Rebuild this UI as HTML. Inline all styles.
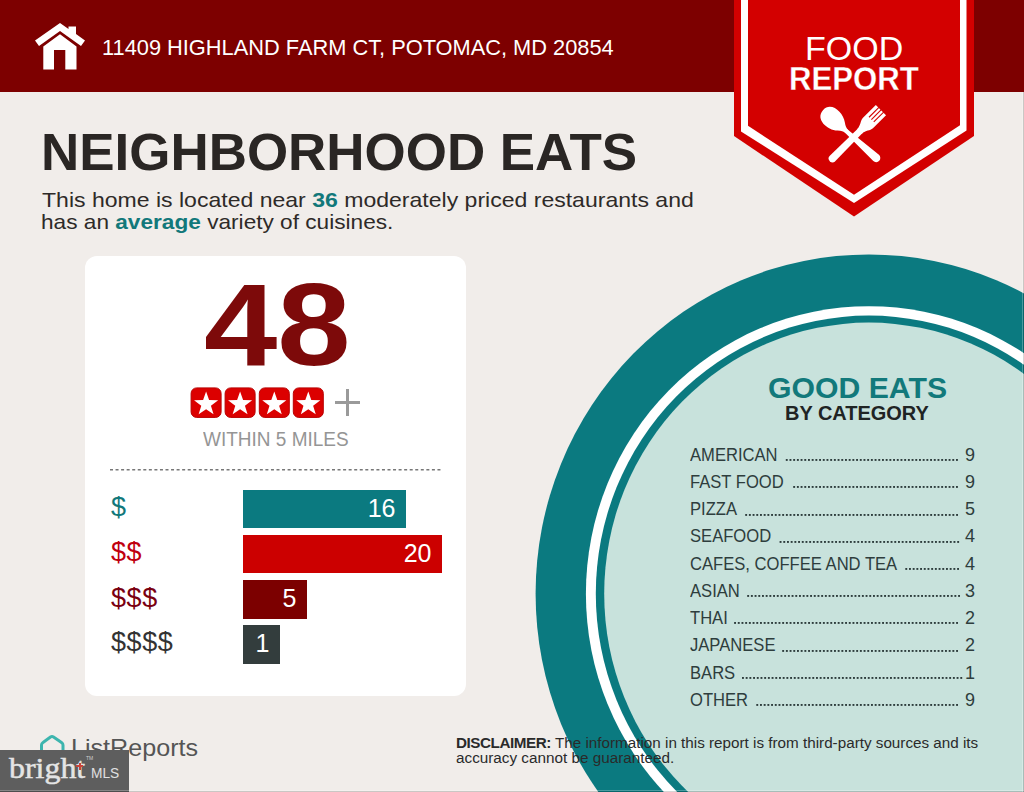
<!DOCTYPE html>
<html><head><meta charset="utf-8">
<style>
*{margin:0;padding:0;box-sizing:border-box}
html,body{width:1024px;height:792px;overflow:hidden;background:#f1edea}
body{position:relative;font-family:"Liberation Sans",sans-serif}
.a{position:absolute;white-space:nowrap;line-height:1;transform-origin:0 0}
#hdr{position:absolute;left:0;top:0;width:1024px;height:92px;background:#7d0000}
#card{position:absolute;left:85px;top:256px;width:381px;height:439.5px;background:#fff;border-radius:12px}
.bar{position:absolute;left:243px;height:38.5px;color:#fff;font-size:25px;text-align:right;line-height:36.5px;padding-right:10.5px}
.cl{font-size:18px;color:#2e3d3d;transform:scaleX(0.922)}
.cn{font-size:18px;color:#2e3d3d}
.dots{position:absolute;height:1.8px;background-image:linear-gradient(to right,#2e3d3d 0,#2e3d3d 1.8px,transparent 1.8px);background-size:3.7px 1.8px;background-position:right 0 top 0;background-repeat:repeat-x}
</style></head><body>
<div id="hdr"></div>

<svg class="a" style="left:0;top:0" width="120" height="92" viewBox="0 0 120 92">
  <polygon fill="#fff" points="60,23 35,40.5 39,46 60,31 81,46 85,40.5 76,34 76,26.5 68.5,26.5 68.5,29"/>
  <polygon fill="#fff" points="43.3,46.5 60,34.3 76.5,46.5 76.5,69.5 65.3,69.5 65.3,50 54,50 54,69.5 43.3,69.5"/>
</svg>

<div id="addr" class="a" style="left:102px;top:37.2px;font-size:22px;color:#fff;transform:scaleX(0.991)">11409 HIGHLAND FARM CT, POTOMAC, MD 20854</div>

<svg class="a" style="left:0;top:0" width="1024" height="230" viewBox="0 0 1024 230">
  <polygon fill="#d30000" points="734,0 974,0 974,136 854,216.5 734,136"/>
  <polygon fill="#fff" points="741,0 966.5,0 966.5,130.6 854,203 741,131.5"/>
  <polygon fill="#d30000" points="748,0 960,0 960,125.3 854,194.8 748,125.8"/>
  <g transform="translate(832.5,158.5) rotate(-45)" fill="#fff">
    <path d="M0,-3.8 L40,-3.2 L40,3.2 L0,3.8 A3.8,3.8 0 0 1 0,-3.8 Z"/>
    <path d="M38,-3.2 C44,-3.4 46,-7 50,-7.2 L68.5,-7.2 L68.5,7.2 L50,7.2 C46,7 44,3.4 38,3.2 Z"/>
    <rect x="55" y="-3.9" width="14" height="1.1" fill="#d30000"/>
    <rect x="55" y="-0.55" width="14" height="1.1" fill="#d30000"/>
    <rect x="55" y="2.8" width="14" height="1.1" fill="#d30000"/>
  </g>
  <g transform="translate(834.5,120.5) rotate(42)" fill="#fff">
    <path d="M-15.5,0 C-15.5,-12 1,-12 9,-5.5 C12,-3 14,-2.2 17,-2 L17,2 C14,2.2 12,3 9,5.5 C1,12 -15.5,12 -15.5,0 Z"/>
    <path d="M15,-2 L56,-4.2 A4.2,4.2 0 0 1 56,4.2 L15,2 Z"/>
  </g>
</svg>
<div id="food" class="a" style="left:805px;top:30.6px;font-size:34px;color:#fff">FOOD</div>
<div id="report" class="a" style="left:789px;top:61.5px;font-size:33px;font-weight:bold;color:#fff;-webkit-text-stroke:0.3px #d30000;transform:scaleX(0.943)">REPORT</div>

<div id="title" class="a" style="left:40.6px;top:127px;font-size:51px;font-weight:bold;color:#2a2624;transform:scaleX(1.038)">NEIGHBORHOOD EATS</div>
<div id="sub1" class="a" style="left:42px;top:188.7px;font-size:21px;color:#2e2a28;transform:scaleX(1.097)">This home is located near <b style="color:#12787a">36</b> moderately priced restaurants and</div>
<div id="sub2" class="a" style="left:40.8px;top:211.1px;font-size:21px;color:#2e2a28;transform:scaleX(1.078)">has an <b style="color:#12787a">average</b> variety of cuisines.</div>

<div id="card"></div>
<div id="n48" class="a" style="left:204px;top:267.4px;font-size:116.3px;font-weight:bold;color:#7d0a0a;transform:scaleX(1.134)">48</div>

<svg class="a" style="left:0;top:0" width="480" height="480" viewBox="0 0 480 480">
  <defs>
    <g id="st"><rect x="0.5" y="0.5" width="30" height="29.5" rx="5.5" fill="#dc0000" stroke="#b80000" stroke-width="1"/>
    <polygon fill="#fff" points="15.50,4.00 18.49,12.59 27.58,12.78 20.33,18.27 22.96,26.97 15.50,21.78 8.04,26.97 10.67,18.27 3.42,12.78 12.51,12.59"/></g>
  </defs>
  <use href="#st" x="190.6" y="387.4"/>
  <use href="#st" x="224.6" y="387.4"/>
  <use href="#st" x="258.8" y="387.4"/>
  <use href="#st" x="292.8" y="387.4"/>
  <rect x="335" y="401" width="25" height="3" fill="#9a9a9a"/>
  <rect x="346" y="389" width="3" height="27" fill="#9a9a9a"/>
  <line x1="110" y1="469.7" x2="443" y2="469.7" stroke="#777" stroke-width="1.6" stroke-dasharray="3,2.55"/>
</svg>
<div id="within" class="a" style="left:203px;top:429.6px;font-size:19.5px;color:#959595;transform:scaleX(0.974)">WITHIN 5 MILES</div>

<div class="bar" style="top:489.7px;width:163px;background:#0b7a80">16</div>
<div class="bar" style="top:534.8px;width:199px;background:#cc0000">20</div>
<div class="bar" style="top:580.3px;width:64px;background:#7c0000">5</div>
<div class="bar" style="top:625.4px;width:37px;background:#333d3d">1</div>

<div class="a" style="left:111px;top:493.6px;font-size:27px;letter-spacing:0.6px;color:#12787a">$</div>
<div class="a" style="left:111px;top:539.1px;font-size:27px;letter-spacing:0.6px;color:#c0000f">$$</div>
<div class="a" style="left:111px;top:584.7px;font-size:27px;letter-spacing:0.6px;color:#7a0010">$$$</div>
<div class="a" style="left:111px;top:629.1px;font-size:27px;letter-spacing:0.6px;color:#333">$$$$</div>

<svg class="a" style="left:0;top:0" width="1024" height="792" viewBox="0 0 1024 792">
  <ellipse cx="868.9" cy="593.8" rx="333.3" ry="339.4" fill="#0b7a80"/>
  <ellipse cx="868.9" cy="593.8" rx="283" ry="287.6" fill="#fff"/>
  <ellipse cx="868.9" cy="593.8" rx="273.1" ry="278.2" fill="#0b7a80"/>
  <ellipse cx="868.9" cy="593.8" rx="264.7" ry="271.2" fill="#c8e2dc"/>
</svg>

<div id="ge" class="a" style="left:768px;top:373px;font-size:29.8px;font-weight:bold;color:#12797b;transform:scaleX(1.014)">GOOD EATS</div>
<div id="bc" class="a" style="left:785px;top:403.9px;font-size:19.5px;font-weight:bold;color:#1f2424;transform:scaleX(1.024)">BY CATEGORY</div>

<div class="a cl" style="left:690px;top:445.6px">AMERICAN</div>
<div class="a cn" style="left:965px;top:445.6px;width:10px;text-align:right">9</div>
<div class="a cl" style="left:690px;top:472.8px">FAST FOOD</div>
<div class="a cn" style="left:965px;top:472.8px;width:10px;text-align:right">9</div>
<div class="a cl" style="left:690px;top:500.1px">PIZZA</div>
<div class="a cn" style="left:965px;top:500.1px;width:10px;text-align:right">5</div>
<div class="a cl" style="left:690px;top:527.3px">SEAFOOD</div>
<div class="a cn" style="left:965px;top:527.3px;width:10px;text-align:right">4</div>
<div class="a cl" style="left:690px;top:554.6px">CAFES, COFFEE AND TEA</div>
<div class="a cn" style="left:965px;top:554.6px;width:10px;text-align:right">4</div>
<div class="a cl" style="left:690px;top:581.8px">ASIAN</div>
<div class="a cn" style="left:965px;top:581.8px;width:10px;text-align:right">3</div>
<div class="a cl" style="left:690px;top:609.1px">THAI</div>
<div class="a cn" style="left:965px;top:609.1px;width:10px;text-align:right">2</div>
<div class="a cl" style="left:690px;top:636.3px">JAPANESE</div>
<div class="a cn" style="left:965px;top:636.3px;width:10px;text-align:right">2</div>
<div class="a cl" style="left:690px;top:663.6px">BARS</div>
<div class="a cn" style="left:965px;top:663.6px;width:10px;text-align:right">1</div>
<div class="a cl" style="left:690px;top:690.8px">OTHER</div>
<div class="a cn" style="left:965px;top:690.8px;width:10px;text-align:right">9</div>

<svg class="a" style="left:0;top:0" width="1024" height="792" viewBox="0 0 1024 792" fill="#2e3d3d"><rect x="956.0" y="459" width="1.9" height="1.9"/><rect x="952.3" y="459" width="1.9" height="1.9"/><rect x="948.6" y="459" width="1.9" height="1.9"/><rect x="944.9" y="459" width="1.9" height="1.9"/><rect x="941.2" y="459" width="1.9" height="1.9"/><rect x="937.5" y="459" width="1.9" height="1.9"/><rect x="933.8" y="459" width="1.9" height="1.9"/><rect x="930.1" y="459" width="1.9" height="1.9"/><rect x="926.4" y="459" width="1.9" height="1.9"/><rect x="922.7" y="459" width="1.9" height="1.9"/><rect x="919.0" y="459" width="1.9" height="1.9"/><rect x="915.3" y="459" width="1.9" height="1.9"/><rect x="911.6" y="459" width="1.9" height="1.9"/><rect x="907.9" y="459" width="1.9" height="1.9"/><rect x="904.2" y="459" width="1.9" height="1.9"/><rect x="900.5" y="459" width="1.9" height="1.9"/><rect x="896.8" y="459" width="1.9" height="1.9"/><rect x="893.1" y="459" width="1.9" height="1.9"/><rect x="889.4" y="459" width="1.9" height="1.9"/><rect x="885.7" y="459" width="1.9" height="1.9"/><rect x="882.0" y="459" width="1.9" height="1.9"/><rect x="878.3" y="459" width="1.9" height="1.9"/><rect x="874.6" y="459" width="1.9" height="1.9"/><rect x="870.9" y="459" width="1.9" height="1.9"/><rect x="867.2" y="459" width="1.9" height="1.9"/><rect x="863.5" y="459" width="1.9" height="1.9"/><rect x="859.8" y="459" width="1.9" height="1.9"/><rect x="856.1" y="459" width="1.9" height="1.9"/><rect x="852.4" y="459" width="1.9" height="1.9"/><rect x="848.7" y="459" width="1.9" height="1.9"/><rect x="845.0" y="459" width="1.9" height="1.9"/><rect x="841.3" y="459" width="1.9" height="1.9"/><rect x="837.6" y="459" width="1.9" height="1.9"/><rect x="833.9" y="459" width="1.9" height="1.9"/><rect x="830.2" y="459" width="1.9" height="1.9"/><rect x="826.5" y="459" width="1.9" height="1.9"/><rect x="822.8" y="459" width="1.9" height="1.9"/><rect x="819.1" y="459" width="1.9" height="1.9"/><rect x="815.4" y="459" width="1.9" height="1.9"/><rect x="811.7" y="459" width="1.9" height="1.9"/><rect x="808.0" y="459" width="1.9" height="1.9"/><rect x="804.3" y="459" width="1.9" height="1.9"/><rect x="800.6" y="459" width="1.9" height="1.9"/><rect x="796.9" y="459" width="1.9" height="1.9"/><rect x="793.2" y="459" width="1.9" height="1.9"/><rect x="789.5" y="459" width="1.9" height="1.9"/><rect x="785.8" y="459" width="1.9" height="1.9"/><rect x="956.0" y="486" width="1.9" height="1.9"/><rect x="952.3" y="486" width="1.9" height="1.9"/><rect x="948.6" y="486" width="1.9" height="1.9"/><rect x="944.9" y="486" width="1.9" height="1.9"/><rect x="941.2" y="486" width="1.9" height="1.9"/><rect x="937.5" y="486" width="1.9" height="1.9"/><rect x="933.8" y="486" width="1.9" height="1.9"/><rect x="930.1" y="486" width="1.9" height="1.9"/><rect x="926.4" y="486" width="1.9" height="1.9"/><rect x="922.7" y="486" width="1.9" height="1.9"/><rect x="919.0" y="486" width="1.9" height="1.9"/><rect x="915.3" y="486" width="1.9" height="1.9"/><rect x="911.6" y="486" width="1.9" height="1.9"/><rect x="907.9" y="486" width="1.9" height="1.9"/><rect x="904.2" y="486" width="1.9" height="1.9"/><rect x="900.5" y="486" width="1.9" height="1.9"/><rect x="896.8" y="486" width="1.9" height="1.9"/><rect x="893.1" y="486" width="1.9" height="1.9"/><rect x="889.4" y="486" width="1.9" height="1.9"/><rect x="885.7" y="486" width="1.9" height="1.9"/><rect x="882.0" y="486" width="1.9" height="1.9"/><rect x="878.3" y="486" width="1.9" height="1.9"/><rect x="874.6" y="486" width="1.9" height="1.9"/><rect x="870.9" y="486" width="1.9" height="1.9"/><rect x="867.2" y="486" width="1.9" height="1.9"/><rect x="863.5" y="486" width="1.9" height="1.9"/><rect x="859.8" y="486" width="1.9" height="1.9"/><rect x="856.1" y="486" width="1.9" height="1.9"/><rect x="852.4" y="486" width="1.9" height="1.9"/><rect x="848.7" y="486" width="1.9" height="1.9"/><rect x="845.0" y="486" width="1.9" height="1.9"/><rect x="841.3" y="486" width="1.9" height="1.9"/><rect x="837.6" y="486" width="1.9" height="1.9"/><rect x="833.9" y="486" width="1.9" height="1.9"/><rect x="830.2" y="486" width="1.9" height="1.9"/><rect x="826.5" y="486" width="1.9" height="1.9"/><rect x="822.8" y="486" width="1.9" height="1.9"/><rect x="819.1" y="486" width="1.9" height="1.9"/><rect x="815.4" y="486" width="1.9" height="1.9"/><rect x="811.7" y="486" width="1.9" height="1.9"/><rect x="808.0" y="486" width="1.9" height="1.9"/><rect x="804.3" y="486" width="1.9" height="1.9"/><rect x="800.6" y="486" width="1.9" height="1.9"/><rect x="796.9" y="486" width="1.9" height="1.9"/><rect x="793.2" y="486" width="1.9" height="1.9"/><rect x="956.1" y="514" width="1.9" height="1.9"/><rect x="952.4" y="514" width="1.9" height="1.9"/><rect x="948.7" y="514" width="1.9" height="1.9"/><rect x="945.0" y="514" width="1.9" height="1.9"/><rect x="941.3" y="514" width="1.9" height="1.9"/><rect x="937.6" y="514" width="1.9" height="1.9"/><rect x="933.9" y="514" width="1.9" height="1.9"/><rect x="930.2" y="514" width="1.9" height="1.9"/><rect x="926.5" y="514" width="1.9" height="1.9"/><rect x="922.8" y="514" width="1.9" height="1.9"/><rect x="919.1" y="514" width="1.9" height="1.9"/><rect x="915.4" y="514" width="1.9" height="1.9"/><rect x="911.7" y="514" width="1.9" height="1.9"/><rect x="908.0" y="514" width="1.9" height="1.9"/><rect x="904.3" y="514" width="1.9" height="1.9"/><rect x="900.6" y="514" width="1.9" height="1.9"/><rect x="896.9" y="514" width="1.9" height="1.9"/><rect x="893.2" y="514" width="1.9" height="1.9"/><rect x="889.5" y="514" width="1.9" height="1.9"/><rect x="885.8" y="514" width="1.9" height="1.9"/><rect x="882.1" y="514" width="1.9" height="1.9"/><rect x="878.4" y="514" width="1.9" height="1.9"/><rect x="874.7" y="514" width="1.9" height="1.9"/><rect x="871.0" y="514" width="1.9" height="1.9"/><rect x="867.3" y="514" width="1.9" height="1.9"/><rect x="863.6" y="514" width="1.9" height="1.9"/><rect x="859.9" y="514" width="1.9" height="1.9"/><rect x="856.2" y="514" width="1.9" height="1.9"/><rect x="852.5" y="514" width="1.9" height="1.9"/><rect x="848.8" y="514" width="1.9" height="1.9"/><rect x="845.1" y="514" width="1.9" height="1.9"/><rect x="841.4" y="514" width="1.9" height="1.9"/><rect x="837.7" y="514" width="1.9" height="1.9"/><rect x="834.0" y="514" width="1.9" height="1.9"/><rect x="830.3" y="514" width="1.9" height="1.9"/><rect x="826.6" y="514" width="1.9" height="1.9"/><rect x="822.9" y="514" width="1.9" height="1.9"/><rect x="819.2" y="514" width="1.9" height="1.9"/><rect x="815.5" y="514" width="1.9" height="1.9"/><rect x="811.8" y="514" width="1.9" height="1.9"/><rect x="808.1" y="514" width="1.9" height="1.9"/><rect x="804.4" y="514" width="1.9" height="1.9"/><rect x="800.7" y="514" width="1.9" height="1.9"/><rect x="797.0" y="514" width="1.9" height="1.9"/><rect x="793.3" y="514" width="1.9" height="1.9"/><rect x="789.6" y="514" width="1.9" height="1.9"/><rect x="785.9" y="514" width="1.9" height="1.9"/><rect x="782.2" y="514" width="1.9" height="1.9"/><rect x="778.5" y="514" width="1.9" height="1.9"/><rect x="774.8" y="514" width="1.9" height="1.9"/><rect x="771.1" y="514" width="1.9" height="1.9"/><rect x="767.4" y="514" width="1.9" height="1.9"/><rect x="763.7" y="514" width="1.9" height="1.9"/><rect x="760.0" y="514" width="1.9" height="1.9"/><rect x="756.3" y="514" width="1.9" height="1.9"/><rect x="752.6" y="514" width="1.9" height="1.9"/><rect x="748.9" y="514" width="1.9" height="1.9"/><rect x="745.2" y="514" width="1.9" height="1.9"/><rect x="957.2" y="541" width="1.9" height="1.9"/><rect x="953.5" y="541" width="1.9" height="1.9"/><rect x="949.8" y="541" width="1.9" height="1.9"/><rect x="946.1" y="541" width="1.9" height="1.9"/><rect x="942.4" y="541" width="1.9" height="1.9"/><rect x="938.7" y="541" width="1.9" height="1.9"/><rect x="935.0" y="541" width="1.9" height="1.9"/><rect x="931.3" y="541" width="1.9" height="1.9"/><rect x="927.6" y="541" width="1.9" height="1.9"/><rect x="923.9" y="541" width="1.9" height="1.9"/><rect x="920.2" y="541" width="1.9" height="1.9"/><rect x="916.5" y="541" width="1.9" height="1.9"/><rect x="912.8" y="541" width="1.9" height="1.9"/><rect x="909.1" y="541" width="1.9" height="1.9"/><rect x="905.4" y="541" width="1.9" height="1.9"/><rect x="901.7" y="541" width="1.9" height="1.9"/><rect x="898.0" y="541" width="1.9" height="1.9"/><rect x="894.3" y="541" width="1.9" height="1.9"/><rect x="890.6" y="541" width="1.9" height="1.9"/><rect x="886.9" y="541" width="1.9" height="1.9"/><rect x="883.2" y="541" width="1.9" height="1.9"/><rect x="879.5" y="541" width="1.9" height="1.9"/><rect x="875.8" y="541" width="1.9" height="1.9"/><rect x="872.1" y="541" width="1.9" height="1.9"/><rect x="868.4" y="541" width="1.9" height="1.9"/><rect x="864.7" y="541" width="1.9" height="1.9"/><rect x="861.0" y="541" width="1.9" height="1.9"/><rect x="857.3" y="541" width="1.9" height="1.9"/><rect x="853.6" y="541" width="1.9" height="1.9"/><rect x="849.9" y="541" width="1.9" height="1.9"/><rect x="846.2" y="541" width="1.9" height="1.9"/><rect x="842.5" y="541" width="1.9" height="1.9"/><rect x="838.8" y="541" width="1.9" height="1.9"/><rect x="835.1" y="541" width="1.9" height="1.9"/><rect x="831.4" y="541" width="1.9" height="1.9"/><rect x="827.7" y="541" width="1.9" height="1.9"/><rect x="824.0" y="541" width="1.9" height="1.9"/><rect x="820.3" y="541" width="1.9" height="1.9"/><rect x="816.6" y="541" width="1.9" height="1.9"/><rect x="812.9" y="541" width="1.9" height="1.9"/><rect x="809.2" y="541" width="1.9" height="1.9"/><rect x="805.5" y="541" width="1.9" height="1.9"/><rect x="801.8" y="541" width="1.9" height="1.9"/><rect x="798.1" y="541" width="1.9" height="1.9"/><rect x="794.4" y="541" width="1.9" height="1.9"/><rect x="790.7" y="541" width="1.9" height="1.9"/><rect x="787.0" y="541" width="1.9" height="1.9"/><rect x="783.3" y="541" width="1.9" height="1.9"/><rect x="779.6" y="541" width="1.9" height="1.9"/><rect x="957.1" y="568" width="1.9" height="1.9"/><rect x="953.4" y="568" width="1.9" height="1.9"/><rect x="949.7" y="568" width="1.9" height="1.9"/><rect x="946.0" y="568" width="1.9" height="1.9"/><rect x="942.3" y="568" width="1.9" height="1.9"/><rect x="938.6" y="568" width="1.9" height="1.9"/><rect x="934.9" y="568" width="1.9" height="1.9"/><rect x="931.2" y="568" width="1.9" height="1.9"/><rect x="927.5" y="568" width="1.9" height="1.9"/><rect x="923.8" y="568" width="1.9" height="1.9"/><rect x="920.1" y="568" width="1.9" height="1.9"/><rect x="916.4" y="568" width="1.9" height="1.9"/><rect x="912.7" y="568" width="1.9" height="1.9"/><rect x="909.0" y="568" width="1.9" height="1.9"/><rect x="905.3" y="568" width="1.9" height="1.9"/><rect x="958.1" y="595" width="1.9" height="1.9"/><rect x="954.4" y="595" width="1.9" height="1.9"/><rect x="950.7" y="595" width="1.9" height="1.9"/><rect x="947.0" y="595" width="1.9" height="1.9"/><rect x="943.3" y="595" width="1.9" height="1.9"/><rect x="939.6" y="595" width="1.9" height="1.9"/><rect x="935.9" y="595" width="1.9" height="1.9"/><rect x="932.2" y="595" width="1.9" height="1.9"/><rect x="928.5" y="595" width="1.9" height="1.9"/><rect x="924.8" y="595" width="1.9" height="1.9"/><rect x="921.1" y="595" width="1.9" height="1.9"/><rect x="917.4" y="595" width="1.9" height="1.9"/><rect x="913.7" y="595" width="1.9" height="1.9"/><rect x="910.0" y="595" width="1.9" height="1.9"/><rect x="906.3" y="595" width="1.9" height="1.9"/><rect x="902.6" y="595" width="1.9" height="1.9"/><rect x="898.9" y="595" width="1.9" height="1.9"/><rect x="895.2" y="595" width="1.9" height="1.9"/><rect x="891.5" y="595" width="1.9" height="1.9"/><rect x="887.8" y="595" width="1.9" height="1.9"/><rect x="884.1" y="595" width="1.9" height="1.9"/><rect x="880.4" y="595" width="1.9" height="1.9"/><rect x="876.7" y="595" width="1.9" height="1.9"/><rect x="873.0" y="595" width="1.9" height="1.9"/><rect x="869.3" y="595" width="1.9" height="1.9"/><rect x="865.6" y="595" width="1.9" height="1.9"/><rect x="861.9" y="595" width="1.9" height="1.9"/><rect x="858.2" y="595" width="1.9" height="1.9"/><rect x="854.5" y="595" width="1.9" height="1.9"/><rect x="850.8" y="595" width="1.9" height="1.9"/><rect x="847.1" y="595" width="1.9" height="1.9"/><rect x="843.4" y="595" width="1.9" height="1.9"/><rect x="839.7" y="595" width="1.9" height="1.9"/><rect x="836.0" y="595" width="1.9" height="1.9"/><rect x="832.3" y="595" width="1.9" height="1.9"/><rect x="828.6" y="595" width="1.9" height="1.9"/><rect x="824.9" y="595" width="1.9" height="1.9"/><rect x="821.2" y="595" width="1.9" height="1.9"/><rect x="817.5" y="595" width="1.9" height="1.9"/><rect x="813.8" y="595" width="1.9" height="1.9"/><rect x="810.1" y="595" width="1.9" height="1.9"/><rect x="806.4" y="595" width="1.9" height="1.9"/><rect x="802.7" y="595" width="1.9" height="1.9"/><rect x="799.0" y="595" width="1.9" height="1.9"/><rect x="795.3" y="595" width="1.9" height="1.9"/><rect x="791.6" y="595" width="1.9" height="1.9"/><rect x="787.9" y="595" width="1.9" height="1.9"/><rect x="784.2" y="595" width="1.9" height="1.9"/><rect x="780.5" y="595" width="1.9" height="1.9"/><rect x="776.8" y="595" width="1.9" height="1.9"/><rect x="773.1" y="595" width="1.9" height="1.9"/><rect x="769.4" y="595" width="1.9" height="1.9"/><rect x="765.7" y="595" width="1.9" height="1.9"/><rect x="762.0" y="595" width="1.9" height="1.9"/><rect x="758.3" y="595" width="1.9" height="1.9"/><rect x="754.6" y="595" width="1.9" height="1.9"/><rect x="750.9" y="595" width="1.9" height="1.9"/><rect x="747.2" y="595" width="1.9" height="1.9"/><rect x="956.1" y="622" width="1.9" height="1.9"/><rect x="952.4" y="622" width="1.9" height="1.9"/><rect x="948.7" y="622" width="1.9" height="1.9"/><rect x="945.0" y="622" width="1.9" height="1.9"/><rect x="941.3" y="622" width="1.9" height="1.9"/><rect x="937.6" y="622" width="1.9" height="1.9"/><rect x="933.9" y="622" width="1.9" height="1.9"/><rect x="930.2" y="622" width="1.9" height="1.9"/><rect x="926.5" y="622" width="1.9" height="1.9"/><rect x="922.8" y="622" width="1.9" height="1.9"/><rect x="919.1" y="622" width="1.9" height="1.9"/><rect x="915.4" y="622" width="1.9" height="1.9"/><rect x="911.7" y="622" width="1.9" height="1.9"/><rect x="908.0" y="622" width="1.9" height="1.9"/><rect x="904.3" y="622" width="1.9" height="1.9"/><rect x="900.6" y="622" width="1.9" height="1.9"/><rect x="896.9" y="622" width="1.9" height="1.9"/><rect x="893.2" y="622" width="1.9" height="1.9"/><rect x="889.5" y="622" width="1.9" height="1.9"/><rect x="885.8" y="622" width="1.9" height="1.9"/><rect x="882.1" y="622" width="1.9" height="1.9"/><rect x="878.4" y="622" width="1.9" height="1.9"/><rect x="874.7" y="622" width="1.9" height="1.9"/><rect x="871.0" y="622" width="1.9" height="1.9"/><rect x="867.3" y="622" width="1.9" height="1.9"/><rect x="863.6" y="622" width="1.9" height="1.9"/><rect x="859.9" y="622" width="1.9" height="1.9"/><rect x="856.2" y="622" width="1.9" height="1.9"/><rect x="852.5" y="622" width="1.9" height="1.9"/><rect x="848.8" y="622" width="1.9" height="1.9"/><rect x="845.1" y="622" width="1.9" height="1.9"/><rect x="841.4" y="622" width="1.9" height="1.9"/><rect x="837.7" y="622" width="1.9" height="1.9"/><rect x="834.0" y="622" width="1.9" height="1.9"/><rect x="830.3" y="622" width="1.9" height="1.9"/><rect x="826.6" y="622" width="1.9" height="1.9"/><rect x="822.9" y="622" width="1.9" height="1.9"/><rect x="819.2" y="622" width="1.9" height="1.9"/><rect x="815.5" y="622" width="1.9" height="1.9"/><rect x="811.8" y="622" width="1.9" height="1.9"/><rect x="808.1" y="622" width="1.9" height="1.9"/><rect x="804.4" y="622" width="1.9" height="1.9"/><rect x="800.7" y="622" width="1.9" height="1.9"/><rect x="797.0" y="622" width="1.9" height="1.9"/><rect x="793.3" y="622" width="1.9" height="1.9"/><rect x="789.6" y="622" width="1.9" height="1.9"/><rect x="785.9" y="622" width="1.9" height="1.9"/><rect x="782.2" y="622" width="1.9" height="1.9"/><rect x="778.5" y="622" width="1.9" height="1.9"/><rect x="774.8" y="622" width="1.9" height="1.9"/><rect x="771.1" y="622" width="1.9" height="1.9"/><rect x="767.4" y="622" width="1.9" height="1.9"/><rect x="763.7" y="622" width="1.9" height="1.9"/><rect x="760.0" y="622" width="1.9" height="1.9"/><rect x="756.3" y="622" width="1.9" height="1.9"/><rect x="752.6" y="622" width="1.9" height="1.9"/><rect x="748.9" y="622" width="1.9" height="1.9"/><rect x="745.2" y="622" width="1.9" height="1.9"/><rect x="741.5" y="622" width="1.9" height="1.9"/><rect x="737.8" y="622" width="1.9" height="1.9"/><rect x="734.1" y="622" width="1.9" height="1.9"/><rect x="956.1" y="650" width="1.9" height="1.9"/><rect x="952.4" y="650" width="1.9" height="1.9"/><rect x="948.7" y="650" width="1.9" height="1.9"/><rect x="945.0" y="650" width="1.9" height="1.9"/><rect x="941.3" y="650" width="1.9" height="1.9"/><rect x="937.6" y="650" width="1.9" height="1.9"/><rect x="933.9" y="650" width="1.9" height="1.9"/><rect x="930.2" y="650" width="1.9" height="1.9"/><rect x="926.5" y="650" width="1.9" height="1.9"/><rect x="922.8" y="650" width="1.9" height="1.9"/><rect x="919.1" y="650" width="1.9" height="1.9"/><rect x="915.4" y="650" width="1.9" height="1.9"/><rect x="911.7" y="650" width="1.9" height="1.9"/><rect x="908.0" y="650" width="1.9" height="1.9"/><rect x="904.3" y="650" width="1.9" height="1.9"/><rect x="900.6" y="650" width="1.9" height="1.9"/><rect x="896.9" y="650" width="1.9" height="1.9"/><rect x="893.2" y="650" width="1.9" height="1.9"/><rect x="889.5" y="650" width="1.9" height="1.9"/><rect x="885.8" y="650" width="1.9" height="1.9"/><rect x="882.1" y="650" width="1.9" height="1.9"/><rect x="878.4" y="650" width="1.9" height="1.9"/><rect x="874.7" y="650" width="1.9" height="1.9"/><rect x="871.0" y="650" width="1.9" height="1.9"/><rect x="867.3" y="650" width="1.9" height="1.9"/><rect x="863.6" y="650" width="1.9" height="1.9"/><rect x="859.9" y="650" width="1.9" height="1.9"/><rect x="856.2" y="650" width="1.9" height="1.9"/><rect x="852.5" y="650" width="1.9" height="1.9"/><rect x="848.8" y="650" width="1.9" height="1.9"/><rect x="845.1" y="650" width="1.9" height="1.9"/><rect x="841.4" y="650" width="1.9" height="1.9"/><rect x="837.7" y="650" width="1.9" height="1.9"/><rect x="834.0" y="650" width="1.9" height="1.9"/><rect x="830.3" y="650" width="1.9" height="1.9"/><rect x="826.6" y="650" width="1.9" height="1.9"/><rect x="822.9" y="650" width="1.9" height="1.9"/><rect x="819.2" y="650" width="1.9" height="1.9"/><rect x="815.5" y="650" width="1.9" height="1.9"/><rect x="811.8" y="650" width="1.9" height="1.9"/><rect x="808.1" y="650" width="1.9" height="1.9"/><rect x="804.4" y="650" width="1.9" height="1.9"/><rect x="800.7" y="650" width="1.9" height="1.9"/><rect x="797.0" y="650" width="1.9" height="1.9"/><rect x="793.3" y="650" width="1.9" height="1.9"/><rect x="789.6" y="650" width="1.9" height="1.9"/><rect x="785.9" y="650" width="1.9" height="1.9"/><rect x="782.2" y="650" width="1.9" height="1.9"/><rect x="960.3" y="677" width="1.9" height="1.9"/><rect x="956.6" y="677" width="1.9" height="1.9"/><rect x="952.9" y="677" width="1.9" height="1.9"/><rect x="949.2" y="677" width="1.9" height="1.9"/><rect x="945.5" y="677" width="1.9" height="1.9"/><rect x="941.8" y="677" width="1.9" height="1.9"/><rect x="938.1" y="677" width="1.9" height="1.9"/><rect x="934.4" y="677" width="1.9" height="1.9"/><rect x="930.7" y="677" width="1.9" height="1.9"/><rect x="927.0" y="677" width="1.9" height="1.9"/><rect x="923.3" y="677" width="1.9" height="1.9"/><rect x="919.6" y="677" width="1.9" height="1.9"/><rect x="915.9" y="677" width="1.9" height="1.9"/><rect x="912.2" y="677" width="1.9" height="1.9"/><rect x="908.5" y="677" width="1.9" height="1.9"/><rect x="904.8" y="677" width="1.9" height="1.9"/><rect x="901.1" y="677" width="1.9" height="1.9"/><rect x="897.4" y="677" width="1.9" height="1.9"/><rect x="893.7" y="677" width="1.9" height="1.9"/><rect x="890.0" y="677" width="1.9" height="1.9"/><rect x="886.3" y="677" width="1.9" height="1.9"/><rect x="882.6" y="677" width="1.9" height="1.9"/><rect x="878.9" y="677" width="1.9" height="1.9"/><rect x="875.2" y="677" width="1.9" height="1.9"/><rect x="871.5" y="677" width="1.9" height="1.9"/><rect x="867.8" y="677" width="1.9" height="1.9"/><rect x="864.1" y="677" width="1.9" height="1.9"/><rect x="860.4" y="677" width="1.9" height="1.9"/><rect x="856.7" y="677" width="1.9" height="1.9"/><rect x="853.0" y="677" width="1.9" height="1.9"/><rect x="849.3" y="677" width="1.9" height="1.9"/><rect x="845.6" y="677" width="1.9" height="1.9"/><rect x="841.9" y="677" width="1.9" height="1.9"/><rect x="838.2" y="677" width="1.9" height="1.9"/><rect x="834.5" y="677" width="1.9" height="1.9"/><rect x="830.8" y="677" width="1.9" height="1.9"/><rect x="827.1" y="677" width="1.9" height="1.9"/><rect x="823.4" y="677" width="1.9" height="1.9"/><rect x="819.7" y="677" width="1.9" height="1.9"/><rect x="816.0" y="677" width="1.9" height="1.9"/><rect x="812.3" y="677" width="1.9" height="1.9"/><rect x="808.6" y="677" width="1.9" height="1.9"/><rect x="804.9" y="677" width="1.9" height="1.9"/><rect x="801.2" y="677" width="1.9" height="1.9"/><rect x="797.5" y="677" width="1.9" height="1.9"/><rect x="793.8" y="677" width="1.9" height="1.9"/><rect x="790.1" y="677" width="1.9" height="1.9"/><rect x="786.4" y="677" width="1.9" height="1.9"/><rect x="782.7" y="677" width="1.9" height="1.9"/><rect x="779.0" y="677" width="1.9" height="1.9"/><rect x="775.3" y="677" width="1.9" height="1.9"/><rect x="771.6" y="677" width="1.9" height="1.9"/><rect x="767.9" y="677" width="1.9" height="1.9"/><rect x="764.2" y="677" width="1.9" height="1.9"/><rect x="760.5" y="677" width="1.9" height="1.9"/><rect x="756.8" y="677" width="1.9" height="1.9"/><rect x="753.1" y="677" width="1.9" height="1.9"/><rect x="749.4" y="677" width="1.9" height="1.9"/><rect x="745.7" y="677" width="1.9" height="1.9"/><rect x="742.0" y="677" width="1.9" height="1.9"/><rect x="956.1" y="704" width="1.9" height="1.9"/><rect x="952.4" y="704" width="1.9" height="1.9"/><rect x="948.7" y="704" width="1.9" height="1.9"/><rect x="945.0" y="704" width="1.9" height="1.9"/><rect x="941.3" y="704" width="1.9" height="1.9"/><rect x="937.6" y="704" width="1.9" height="1.9"/><rect x="933.9" y="704" width="1.9" height="1.9"/><rect x="930.2" y="704" width="1.9" height="1.9"/><rect x="926.5" y="704" width="1.9" height="1.9"/><rect x="922.8" y="704" width="1.9" height="1.9"/><rect x="919.1" y="704" width="1.9" height="1.9"/><rect x="915.4" y="704" width="1.9" height="1.9"/><rect x="911.7" y="704" width="1.9" height="1.9"/><rect x="908.0" y="704" width="1.9" height="1.9"/><rect x="904.3" y="704" width="1.9" height="1.9"/><rect x="900.6" y="704" width="1.9" height="1.9"/><rect x="896.9" y="704" width="1.9" height="1.9"/><rect x="893.2" y="704" width="1.9" height="1.9"/><rect x="889.5" y="704" width="1.9" height="1.9"/><rect x="885.8" y="704" width="1.9" height="1.9"/><rect x="882.1" y="704" width="1.9" height="1.9"/><rect x="878.4" y="704" width="1.9" height="1.9"/><rect x="874.7" y="704" width="1.9" height="1.9"/><rect x="871.0" y="704" width="1.9" height="1.9"/><rect x="867.3" y="704" width="1.9" height="1.9"/><rect x="863.6" y="704" width="1.9" height="1.9"/><rect x="859.9" y="704" width="1.9" height="1.9"/><rect x="856.2" y="704" width="1.9" height="1.9"/><rect x="852.5" y="704" width="1.9" height="1.9"/><rect x="848.8" y="704" width="1.9" height="1.9"/><rect x="845.1" y="704" width="1.9" height="1.9"/><rect x="841.4" y="704" width="1.9" height="1.9"/><rect x="837.7" y="704" width="1.9" height="1.9"/><rect x="834.0" y="704" width="1.9" height="1.9"/><rect x="830.3" y="704" width="1.9" height="1.9"/><rect x="826.6" y="704" width="1.9" height="1.9"/><rect x="822.9" y="704" width="1.9" height="1.9"/><rect x="819.2" y="704" width="1.9" height="1.9"/><rect x="815.5" y="704" width="1.9" height="1.9"/><rect x="811.8" y="704" width="1.9" height="1.9"/><rect x="808.1" y="704" width="1.9" height="1.9"/><rect x="804.4" y="704" width="1.9" height="1.9"/><rect x="800.7" y="704" width="1.9" height="1.9"/><rect x="797.0" y="704" width="1.9" height="1.9"/><rect x="793.3" y="704" width="1.9" height="1.9"/><rect x="789.6" y="704" width="1.9" height="1.9"/><rect x="785.9" y="704" width="1.9" height="1.9"/><rect x="782.2" y="704" width="1.9" height="1.9"/><rect x="778.5" y="704" width="1.9" height="1.9"/><rect x="774.8" y="704" width="1.9" height="1.9"/><rect x="771.1" y="704" width="1.9" height="1.9"/><rect x="767.4" y="704" width="1.9" height="1.9"/><rect x="763.7" y="704" width="1.9" height="1.9"/><rect x="760.0" y="704" width="1.9" height="1.9"/><rect x="756.3" y="704" width="1.9" height="1.9"/></svg>

<div id="disc1" class="a" style="left:456px;top:736.5px;font-size:13.8px;color:#2a2a2a;transform:scaleX(1.104)"><b style="letter-spacing:-0.4px">DISCLAIMER:</b> The information in this report is from third-party sources and its</div>
<div id="disc2" class="a" style="left:456px;top:752.3px;font-size:13.8px;color:#2a2a2a;transform:scaleX(1.107)">accuracy cannot be guaranteed.</div>

<svg class="a" style="left:0;top:0" width="200" height="792" viewBox="0 0 200 792">
  <path d="M41.5,756 L41.5,745 Q41.5,743.5 43,742.5 L50.5,737 Q52,736 53.5,737 L61.5,742.5 Q63,743.5 63,745 L63,756" fill="none" stroke="#3db5ae" stroke-width="3"/>
</svg>
<div id="lr" class="a" style="left:71px;top:736.8px;font-size:23.4px;color:#555;transform:scaleX(1.074)">ListReports</div>

<div style="position:absolute;left:0;top:750px;width:129px;height:42px;background:#5e5e5e"></div>
<div id="bright" class="a" style="left:9px;top:754px;font-family:'Liberation Serif',serif;font-size:29px;color:#e4e4e4;-webkit-text-stroke:0.5px #e4e4e4;transform:scaleX(1.1)">bright</div>
<div style="position:absolute;left:76px;top:765px;width:7px;height:2px;background:#c8443a"></div><div style="position:absolute;left:78.5px;top:762.5px;width:2px;height:7px;background:#c8443a"></div>
<div class="a" style="left:86px;top:756px;font-size:5px;color:#cfcfcf">TM</div>
<div id="mls" class="a" style="left:91px;top:766px;font-size:14px;color:#e0e0e0;transform:scaleX(0.98)">MLS</div>
<div style="position:absolute;left:0;top:790px;width:1024px;height:1px;background:rgba(255,255,255,0.25)"></div>
<div style="position:absolute;left:0;top:791px;width:1024px;height:1px;background:rgba(0,0,0,0.16)"></div>
<div style="position:absolute;left:1022px;top:92px;width:1px;height:700px;background:rgba(255,255,255,0.25)"></div>
<div style="position:absolute;left:1023px;top:92px;width:1px;height:700px;background:rgba(0,0,0,0.16)"></div>
</body></html>
